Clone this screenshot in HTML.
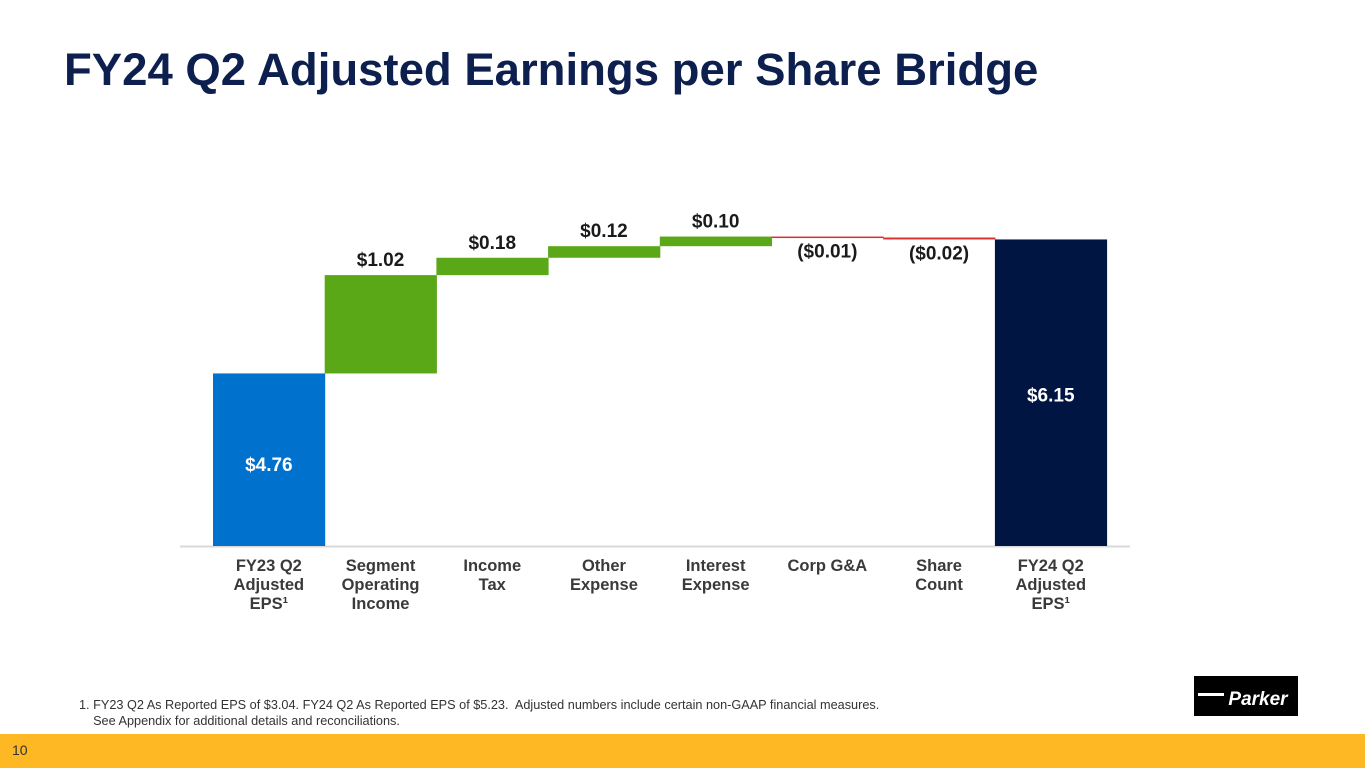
<!DOCTYPE html>
<html><head><meta charset="utf-8"><style>
body{margin:0;width:1365px;height:768px;background:#fff;overflow:hidden;position:relative;font-family:"Liberation Sans",Arial,sans-serif}
#title{position:absolute;left:64px;top:44px;font-size:45.5px;font-weight:bold;color:#0c1f4e;margin:0;white-space:nowrap}
#foot{position:absolute;left:0;top:734px;width:1365px;height:34px;background:#fdb823}
#pn{position:absolute;left:12px;top:742px;font-size:14px;color:#333}
#note{position:absolute;left:79px;top:697px;font-size:12.7px;color:#333;line-height:16px}
</style></head><body>
<h1 id="title">FY24 Q2 Adjusted Earnings per Share Bridge</h1>
<svg id="chart" width="1365" height="768" style="position:absolute;left:0;top:0"></svg>
<div id="note">1. FY23 Q2 As Reported EPS of $3.04. FY24 Q2 As Reported EPS of $5.23.&nbsp; Adjusted numbers include certain non-GAAP financial measures.<br>&nbsp;&nbsp;&nbsp; See Appendix for additional details and reconciliations.</div>
<svg width="104" height="40" style="position:absolute;left:1194px;top:676px">
<rect width="104" height="40" fill="#000"/>
<rect x="4" y="17" width="26" height="3" fill="#fff"/>
<text x="64" y="29" text-anchor="middle" font-size="19" font-weight="bold" font-style="italic" fill="#fff" font-family="Liberation Sans, sans-serif">Parker</text>
</svg>
<div id="foot"></div>
<div id="pn">10</div>
<script>
const categories=[["FY23 Q2","Adjusted","EPS¹"],["Segment","Operating","Income"],["Income","Tax"],["Other","Expense"],["Interest","Expense"],["Corp G&A"],["Share","Count"],["FY24 Q2","Adjusted","EPS¹"]];
const values=[4.76,1.02,0.18,0.12,0.10,-0.01,-0.02,6.15];
const labels=["$4.76","$1.02","$0.18","$0.12","$0.10","($0.01)","($0.02)","$6.15"];
const kinds=["total","delta","delta","delta","delta","delta","delta","total"];
const svg=document.getElementById('chart');const NS='http://www.w3.org/2000/svg';
const x0=213,bw=111.7,baseY=546,vMin=2.97,ppu=96.4;
const y=v=>baseY-(v-vMin)*ppu;
const xs=i=>x0+i*bw;
function el(t,a){const e=document.createElementNS(NS,t);for(const k in a)e.setAttribute(k,a[k]);svg.appendChild(e);return e;}
const ax=el('line',{x1:180,x2:1130,y1:baseY+0.5,y2:baseY+0.5,stroke:'#d9d9d9','stroke-width':2});


let cum=0;
values.forEach((v,i)=>{
 let top,bot,fill;
 if(kinds[i]==='total'){top=y(v);bot=baseY;fill=i===0?'#0072ce':'#001541';cum=v;}
 else{const a=cum,b=cum+v;top=y(Math.max(a,b));bot=y(Math.min(a,b));fill=v>=0?'#5aa817':'#d9302b';cum=b;}
 const h=Math.max(bot-top,1.5);
 const r=el('rect',{x:xs(i),y:top,width:bw+0.5,height:h,fill:fill});
 
 
 let ly,col='#1a1a1a';
 if(kinds[i]==='total'){ly=i===0?top+(bot-top)*0.52+8:top+162;col='#fff';}
 else if(v>=0)ly=top-9;else ly=bot+20;
 const t=el('text',{x:xs(i)+bw/2,y:ly,'text-anchor':'middle','font-size':19,'font-weight':'bold',fill:col});
 t.textContent=labels[i];
 
 
 categories[i].forEach((ln,j)=>{
  const c=el('text',{x:xs(i)+bw/2,y:571+j*19,'text-anchor':'middle','font-size':16.5,'font-weight':'bold',fill:'#3a3a3a'});
  c.textContent=ln;
  
  
 });
});
</script>
</body></html>
